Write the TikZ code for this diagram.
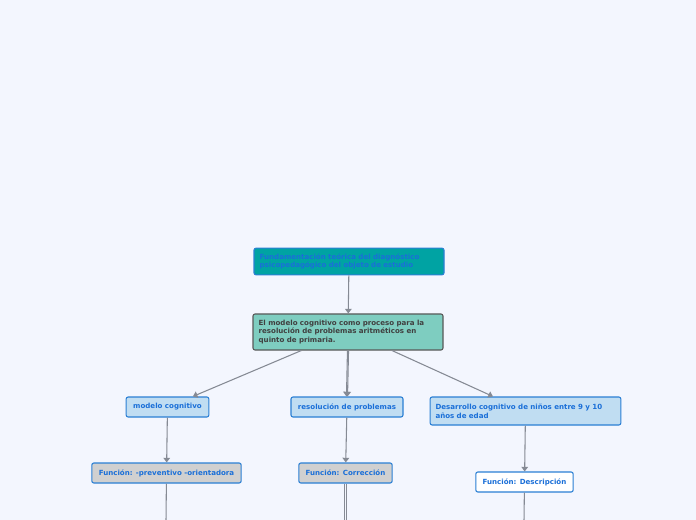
\documentclass[tikz,border=0pt]{standalone}
\usepackage{fontspec}
\setmainfont{DejaVu Sans}
\usetikzlibrary{arrows.meta}
\definecolor{bg}{HTML}{F3F6FE}
\definecolor{tealtop}{HTML}{00A3A3}
\definecolor{tealmain}{HTML}{7ECDC0}
\definecolor{lightblue}{HTML}{C0DDF2}
\definecolor{bordblue}{HTML}{2A7FD4}
\definecolor{txtblue}{HTML}{1A6FD8}
\definecolor{fngray}{HTML}{D0D0D0}
\definecolor{linegray}{HTML}{858A94}
\tikzset{
  box/.style={draw=bordblue,thick,rounded corners=1.5pt,inner sep=0pt,
    font=\bfseries\fontsize{5.3}{6.6}\selectfont,text=txtblue},
  link/.style={draw=linegray,thick,-{Triangle[length=3.5pt,width=5pt]}},
  plain/.style={draw=linegray,thick}
}
\begin{document}
\begin{tikzpicture}[x=0.75pt,y=-0.75pt]
\fill[bg] (0,0) rectangle (696,520);
\useasboundingbox (0,0) rectangle (696,520);

\node[box,fill=tealtop,minimum width=142.5pt,minimum height=20pt,text width=134pt,align=left] (top) at (349,261.5)
  {Fundamentación teórica del diagnóstico\\psicopedagógico del objeto de estudio};
\node[box,draw=black!65,fill=tealmain,text=black!75,minimum width=142.5pt,minimum height=27pt,text width=134pt,align=left] (main) at (348,332)
  {El modelo cognitivo como proceso para la\\resolución de problemas aritméticos en\\quinto de primaria.};

\node[box,fill=lightblue,minimum width=62pt,minimum height=15pt] (modelo) at (167.5,407) {modelo cognitivo};
\node[box,fill=lightblue,minimum width=84pt,minimum height=15pt] (resol) at (347,407) {resolución de problemas};
\node[box,fill=lightblue,minimum width=143pt,minimum height=21pt,text width=135pt,align=left] (desa) at (525.5,411)
  {Desarrollo cognitivo de niños entre 9 y 10\\años de edad};

\node[box,fill=fngray,minimum width=112pt,minimum height=15pt] (fn1) at (166.5,473) {Función: -preventivo -orientadora};
\node[box,fill=fngray,minimum width=70pt,minimum height=15pt] (fn2) at (345.5,473) {Función: Corrección};
\node[box,fill=white,minimum width=73pt,minimum height=15pt] (fn3) at (524.5,482) {Función: Descripción};

\coordinate (e1) at (166,521);
\coordinate (e2) at (345.5,521);
\coordinate (e3) at (524,521);

\draw[link] (top) -- (main);
\draw[link] ([xshift=-35pt]main.south) -- ([xshift=19pt]modelo.north);
\draw[link] ([xshift=-0.4pt]main.south) -- ([xshift=-0.4pt]resol.north);
\draw[link] ([xshift=0.4pt]main.south) -- ([xshift=0.4pt]resol.north);
\draw[link] ([xshift=33pt]main.south) -- ([xshift=-24.4pt]desa.north);
\draw[link] (modelo) -- (fn1);
\draw[link] (resol) -- (fn2);
\draw[link] (desa) -- (fn3);
\draw[plain] (fn1) -- (e1);
\draw[plain] ([xshift=-0.8pt]fn2.south) -- ([xshift=-0.8pt]e2);
\draw[plain] ([xshift=0.8pt]fn2.south) -- ([xshift=0.8pt]e2);
\draw[plain] (fn3) -- (e3);
\end{tikzpicture}
\end{document}
